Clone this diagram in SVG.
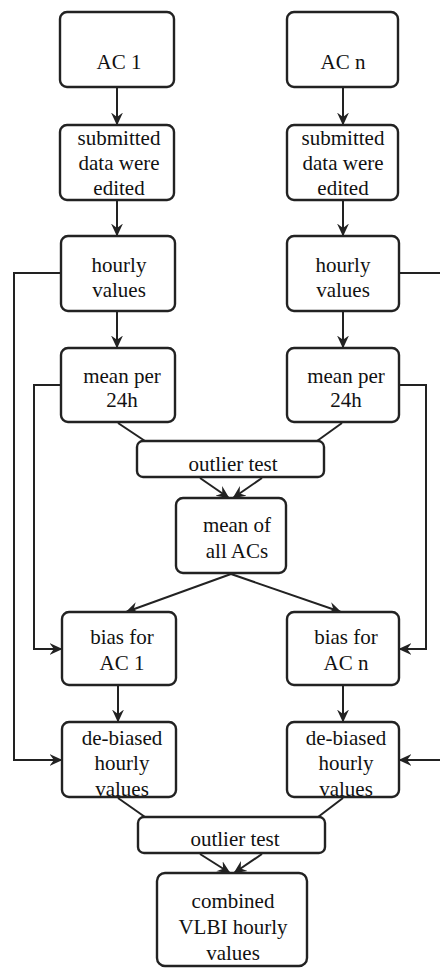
<svg xmlns="http://www.w3.org/2000/svg" width="440" height="968" viewBox="0 0 440 968">
<style>
.b{fill:#fff;stroke:#222;stroke-width:2.4}
.c{fill:none;stroke:#222;stroke-width:2}
.a{marker-end:url(#ah)}
text{font-family:'Liberation Serif','DejaVu Serif',serif;font-size:21px;fill:#111;text-anchor:middle}
</style>
<defs>
<marker id="ah" viewBox="0 0 12 12" refX="11.5" refY="6" markerWidth="13" markerHeight="13" orient="auto" markerUnits="userSpaceOnUse">
<path d="M0,0.5 L12,6 L0,11.5 L4,6 z" fill="#222"/>
</marker>
</defs>
<rect width="440" height="968" fill="#fff"/>
<g id="connectors">
<line class="c a" x1="117" y1="87" x2="117" y2="125"/>
<line class="c a" x1="343" y1="87" x2="343" y2="125"/>
<line class="c a" x1="117" y1="200" x2="117" y2="236"/>
<line class="c a" x1="343" y1="200" x2="343" y2="236"/>
<line class="c a" x1="117" y1="311" x2="117" y2="348"/>
<line class="c a" x1="343" y1="311" x2="343" y2="348"/>
<polyline class="c a" points="61,273 14,273 14,760 62,760"/>
<line class="c" x1="399" y1="273" x2="440" y2="273"/>
<line class="c a" x1="440" y1="760" x2="399" y2="760"/>
<polyline class="c a" points="61,385 34,385 34,649 62,649"/>
<polyline class="c a" points="399,385 426,385 426,649 399,649"/>
<line class="c" x1="118" y1="423" x2="145" y2="441"/>
<line class="c" x1="342" y1="423" x2="317" y2="441"/>
<line class="c a" x1="200" y1="478" x2="229" y2="498"/>
<line class="c a" x1="262" y1="478" x2="233" y2="498"/>
<line class="c a" x1="231" y1="574" x2="126" y2="612"/>
<line class="c a" x1="231" y1="574" x2="341" y2="612"/>
<line class="c a" x1="118" y1="685" x2="118" y2="722"/>
<line class="c a" x1="343" y1="685" x2="343" y2="722"/>
<line class="c" x1="118" y1="798" x2="145" y2="817"/>
<line class="c" x1="343" y1="798" x2="318" y2="817"/>
<line class="c a" x1="200" y1="854" x2="230" y2="873"/>
<line class="c a" x1="262" y1="854" x2="234" y2="873"/>
</g>
<g id="ac1"><rect class="b" x="60" y="12" width="114" height="75" rx="7"/><text x="119" y="69">AC 1</text></g>
<g id="acn"><rect class="b" x="287" y="12" width="111" height="75" rx="7"/><text x="343" y="69">AC n</text></g>
<g id="sub1"><rect class="b" x="60" y="125" width="114" height="75" rx="7"/><text x="119" y="145">submitted</text><text x="119" y="170">data were</text><text x="119" y="195">edited</text></g>
<g id="subn"><rect class="b" x="287" y="125" width="111" height="75" rx="7"/><text x="343" y="145">submitted</text><text x="343" y="170">data were</text><text x="343" y="195">edited</text></g>
<g id="hour1"><rect class="b" x="61" y="236" width="114" height="75" rx="7"/><text x="119" y="272">hourly</text><text x="119" y="297">values</text></g>
<g id="hourn"><rect class="b" x="287" y="236" width="112" height="75" rx="7"/><text x="343" y="272">hourly</text><text x="343" y="297">values</text></g>
<g id="mean1"><rect class="b" x="61" y="348" width="114" height="74" rx="7"/><text x="122" y="383">mean per</text><text x="122" y="407">24h</text></g>
<g id="meann"><rect class="b" x="287" y="348" width="112" height="74" rx="7"/><text x="346" y="383">mean per</text><text x="346" y="407">24h</text></g>
<g id="outlier1"><rect class="b" x="137" y="441" width="187" height="36" rx="6"/><text x="233" y="471">outlier test</text></g>
<g id="meanall"><rect class="b" x="176" y="498" width="110" height="75" rx="7"/><text x="237" y="532">mean of</text><text x="237" y="558">all ACs</text></g>
<g id="bias1"><rect class="b" x="62" y="612" width="114" height="73" rx="7"/><text x="122" y="644">bias for</text><text x="122" y="670">AC 1</text></g>
<g id="biasn"><rect class="b" x="287" y="612" width="112" height="73" rx="7"/><text x="346" y="644">bias for</text><text x="346" y="670">AC n</text></g>
<g id="deb1"><rect class="b" x="62" y="722" width="114" height="75" rx="7"/><text x="122" y="745">de-biased</text><text x="122" y="770">hourly</text><text x="122" y="796">values</text></g>
<g id="debn"><rect class="b" x="287" y="722" width="112" height="75" rx="7"/><text x="346" y="745">de-biased</text><text x="346" y="770">hourly</text><text x="346" y="796">values</text></g>
<g id="outlier2"><rect class="b" x="138" y="817" width="187" height="36" rx="6"/><text x="235" y="846">outlier test</text></g>
<g id="combined"><rect class="b" x="157" y="873" width="150" height="93" rx="8"/><text x="233" y="908">combined</text><text x="233" y="934">VLBI hourly</text><text x="233" y="960">values</text></g>
</svg>
